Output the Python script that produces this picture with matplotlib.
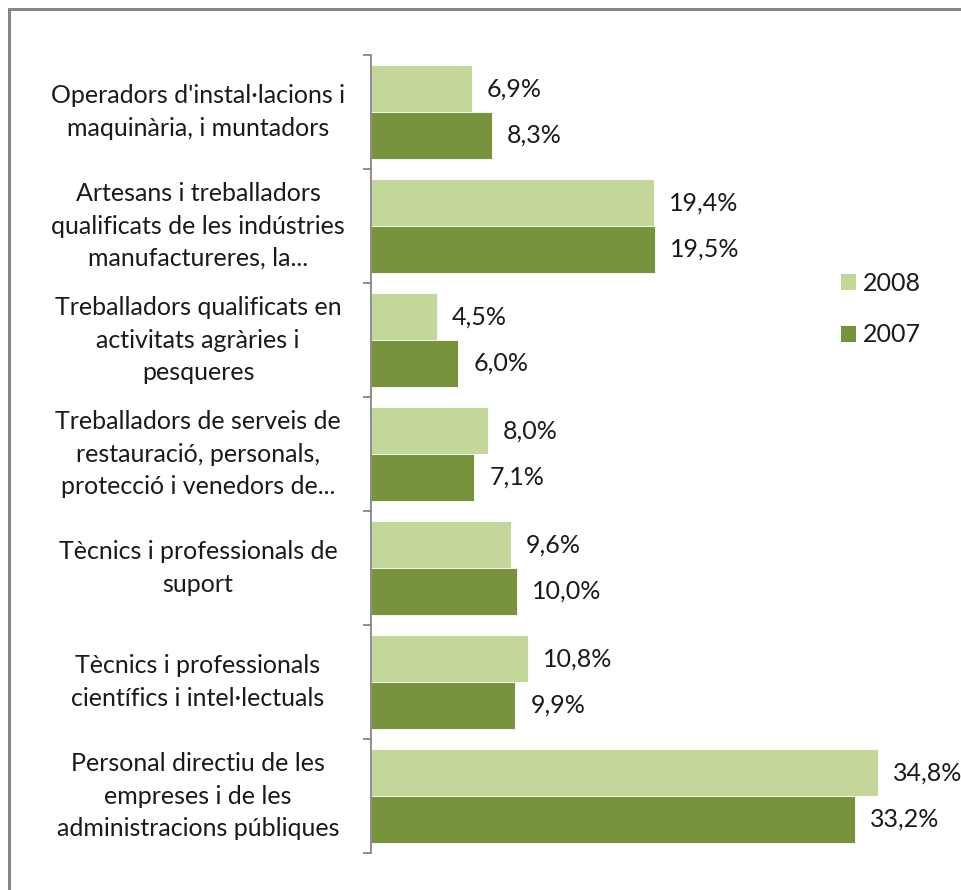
import numpy as np
import matplotlib.pyplot as plt
from matplotlib.patches import Rectangle, Patch
from matplotlib.transforms import blended_transform_factory

# Categories (top to bottom) and values in %
categories = [
    "Operadors d'instal·lacions i\nmaquinària, i muntadors",
    "Artesans i treballadors\nqualificats de les indústries\nmanufactureres, la...",
    "Treballadors qualificats en\nactivitats agràries i\npesqueres",
    "Treballadors de serveis de\nrestauració, personals,\nprotecció i venedors de...",
    "Tècnics i professionals de\nsuport",
    "Tècnics i professionals\ncientífics i intel·lectuals",
    "Personal directiu de les\nempreses i de les\nadministracions públiques",
]
vals_2008 = [6.9, 19.4, 4.5, 8.0, 9.6, 10.8, 34.8]
vals_2007 = [8.3, 19.5, 6.0, 7.1, 10.0, 9.9, 33.2]
series_names = ["2008", "2007"]

light = "#C4D79B"
dark = "#77933C"
text_col = "#1a1a1a"
plt.rcParams['font.family'] = ['Lato', 'DejaVu Sans']
fs = 18

W, H = 961, 890
fig = plt.figure(figsize=(W / 100, H / 100), dpi=100)
ax = fig.add_axes([371 / W, (H - 853) / H, (954 - 371) / W, (853 - 55) / H])

y = np.arange(len(categories))
bh = 0.41
ax.barh(y - bh / 2, vals_2008, height=bh, color=light, edgecolor='white', linewidth=0.6)
ax.barh(y + bh / 2, vals_2007, height=bh, color=dark, edgecolor='white', linewidth=0.6)

ax.set_xlim(0, 40)
ax.set_ylim(len(categories) - 0.5, -0.5)

# value labels
for i in range(len(categories)):
    for off, v in ((-bh / 2, vals_2008[i]), (bh / 2, vals_2007[i])):
        ax.annotate(f"{v:.1f}%".replace('.', ','), (v, i + off), xytext=(15, 0),
                    textcoords='offset pixels', va='center', ha='left',
                    fontsize=fs, color=text_col)

# category labels, centred in the left area
trans = blended_transform_factory(fig.transFigure, ax.transData)
for i, lab in enumerate(categories):
    ax.text(198 / W, i, lab, transform=trans,
            ha='center', va='center', multialignment='center', fontsize=fs,
            color=text_col, linespacing=1.48)

# axes styling
for s in ['top', 'right', 'bottom']:
    ax.spines[s].set_visible(False)
ax.spines['left'].set_color('#868686')
ax.spines['left'].set_linewidth(1.3)
ax.set_xticks([])
ax.set_yticks([])
ax.set_yticks(np.arange(-0.5, len(categories)), minor=True)
ax.tick_params(axis='y', which='minor', length=6, width=1.3, color='#868686', labelleft=False)

# legend
handles = [Patch(facecolor=light, label=series_names[0]),
           Patch(facecolor=dark, label=series_names[1])]
fig.legend(handles=handles, loc='center left', bbox_to_anchor=(818 / W, 1 - 309 / H),
           frameon=False, fontsize=fs, handlelength=0.6, handleheight=0.6,
           handletextpad=0.3, labelspacing=1.15, labelcolor=text_col)

# chart border (runs off the right and bottom edge)
fig.patches.append(Rectangle((9 / W, -0.05), 1.1, 1 - 9 / H + 0.05, transform=fig.transFigure,
                             fill=False, edgecolor='#878787', linewidth=2.2))

fig.savefig('out.png', dpi=100)
